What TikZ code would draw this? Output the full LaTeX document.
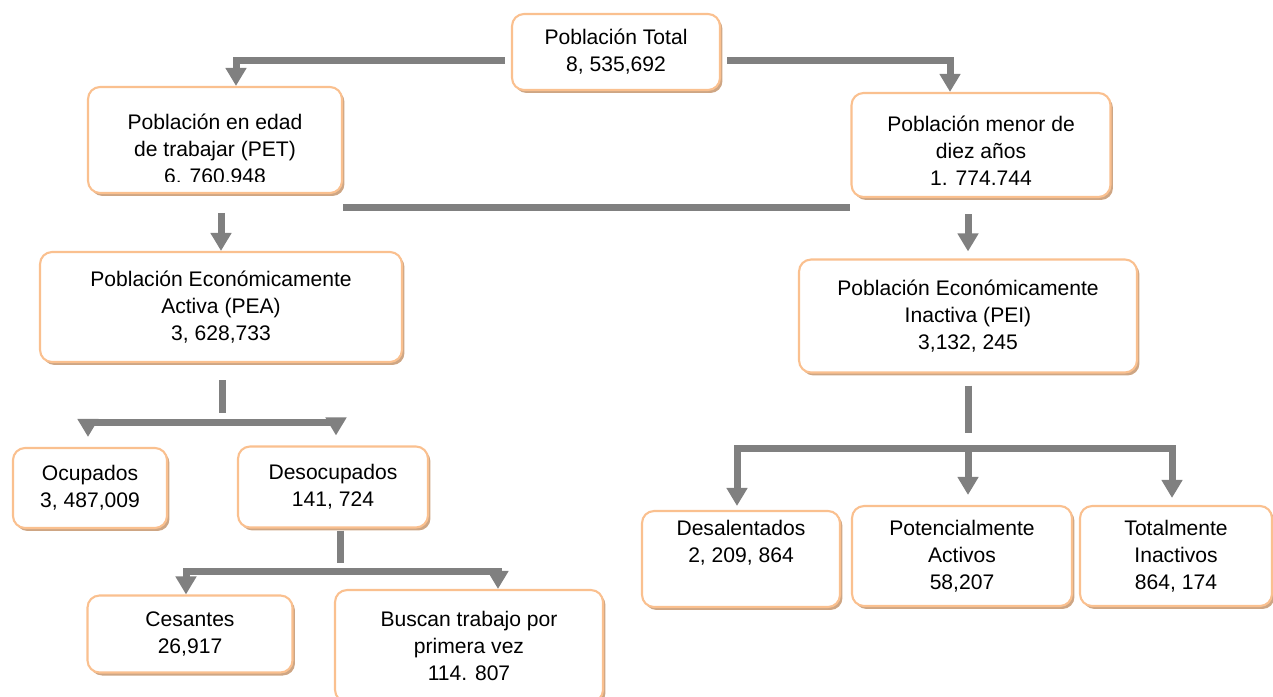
\documentclass[tikz,border=0pt]{standalone}
\usepackage{fontspec}
\setmainfont{Liberation Sans}
\usetikzlibrary{shadows, arrows.meta}
\definecolor{bordecaja}{RGB}{250,192,143}
\definecolor{sombracaja}{RGB}{206,166,132}
\definecolor{grisenlace}{RGB}{128,128,128}

\begin{document}
\begin{tikzpicture}[x=0.02cm, y=-0.02cm,
    caja/.style={draw=bordecaja, line width=1.2pt, fill=white, rounded corners=0.24cm,
        align=center, inner sep=2pt, font=\fontsize{12}{15.3}\selectfont,
        drop shadow={shadow xshift=0.05cm, shadow yshift=-0.06cm, fill=sombracaja, opacity=1}},
    enlace/.style={draw=grisenlace, line width=0.14cm},
    flecha/.style={enlace, -{Triangle[width=0.4cm, length=0.36cm]}}]

    \useasboundingbox (0,0) rectangle (1273,696);

    % Poblacion total y primer nivel
    \node[caja, minimum width=4.16cm, minimum height=1.52cm] (total) at (616,52) {Población Total\\8, 535,692};
    \node[caja, minimum width=5.08cm, minimum height=2.12cm] (pet) at (215,140) {\rule{0pt}{19pt}Población en edad\\de trabajar (PET)\\6. 760.948};
    \fill[white] ([shift={(12,-12)}]pet.south west) rectangle ([shift={(-12,-4)}]pet.south east);
    \node[caja, minimum width=5.18cm, minimum height=2.08cm] (menor) at (981,145) {\rule{0pt}{15pt}Población menor de\\diez años\\1. 774.744};

    \draw[flecha] ([shift={(-6,9)}]total.west) -| ([shift={(21,0)}]pet.north);
    \draw[flecha] ([shift={(6,9)}]total.east) -| ([shift={(-31,0)}]menor.north);

    \coordinate (barra) at (0,207);
    \draw[enlace] (pet.east |- barra) -- (menor.west |- barra);

    % Activa e inactiva
    \node[caja, minimum width=7.24cm, minimum height=2.20cm] (pea) at (221,307) {Población Económicamente\\Activa (PEA)\\3, 628,733};
    \node[caja, minimum width=6.76cm, minimum height=2.26cm] (pei) at (968,316) {Población Económicamente\\Inactiva (PEI)\\3,132, 245};

    \draw[flecha] ([shift={(0,-38)}]pea.north) -- (pea.north);
    \draw[flecha, shorten >=0.14cm] ([shift={(0,-44)}]pei.north) -- (pei.north);

    % Rama de la PEA
    \node[caja, minimum width=3.08cm, minimum height=1.60cm] (ocup) at (90,488) {Ocupados\\3, 487,009};
    \node[caja, minimum width=3.80cm, minimum height=1.62cm] (desoc) at (333,487) {Desocupados\\141, 724};

    \draw[enlace] ([shift={(1,17)}]pea.south) -- ++(0,33);
    \path (pea.south) ++(0,59) coordinate (ramaA);
    \draw[flecha, shorten >=0.2cm] (ramaA) -| ([shift={(-2,0)}]ocup.north);
    \draw[flecha, shorten >=0.2cm] (ramaA) -| ([shift={(3,0)}]desoc.north);

    % Rama de los desocupados
    \node[caja, minimum width=4.10cm, minimum height=1.54cm] (ces) at (190,634) {Cesantes\\26,917};
    \node[caja, minimum width=5.36cm, minimum height=2.24cm] (busc) at (469,646) {Buscan trabajo por\\primera vez\\114. 807};

    \draw[enlace] ([shift={(7,2)}]desoc.south) -- ++(0,32);
    \path (desoc.south) ++(7,43) coordinate (ramaB);
    \draw[flecha] (ramaB) -| ([shift={(-4,0)}]ces.north);
    \draw[flecha] (ramaB) -| ([shift={(29,0)}]busc.north);

    % Rama de la PEI
    \node[caja, minimum width=3.96cm, minimum height=1.92cm] (desal) at (741,559) {Desalentados\\2, 209, 864\\\strut};
    \node[caja, minimum width=4.40cm, minimum height=2.00cm] (poten) at (962,556) {Potencialmente\\Activos\\58,207};
    \node[caja, minimum width=3.84cm, minimum height=2.00cm] (totin) at (1176,556) {Totalmente\\Inactivos\\864, 174};

    \draw[enlace] ([shift={(0,12)}]pei.south) -- ++(0,47);
    \path (pei.south) ++(0,75) coordinate (ramaC);
    \draw[flecha, shorten >=0.08cm] (ramaC) -| ([shift={(-4,0)}]desal.north);
    \draw[flecha, shorten >=0.2cm] (ramaC) -- (ramaC |- poten.north);
    \draw[flecha, shorten >=0.14cm] (ramaC) -| ([shift={(-4,0)}]totin.north);

\end{tikzpicture}
\end{document}
